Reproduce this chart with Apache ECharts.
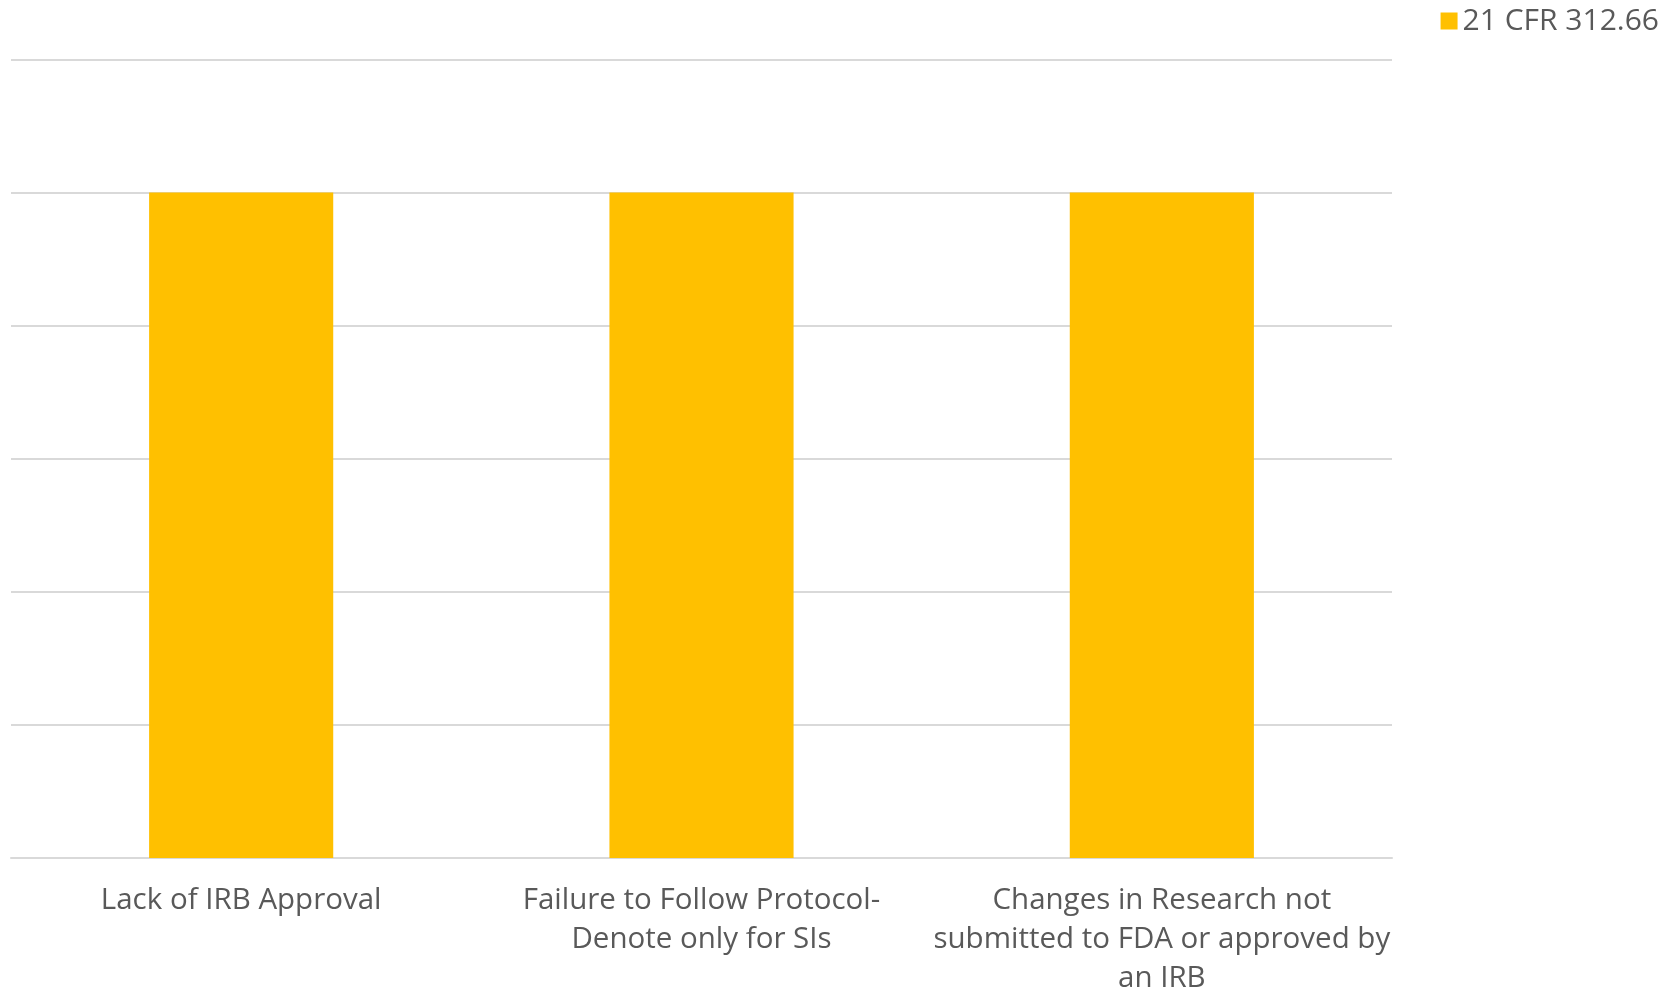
<!DOCTYPE html>
<html>
<head>
<meta charset="utf-8">
<script src="https://cdn.jsdelivr.net/npm/echarts@6/dist/echarts.min.js"></script>
<style>
  html, body { margin: 0; padding: 0; background: #ffffff; }
  #chart { width: 1672px; height: 993px; }
</style>
</head>
<body>
<div id="chart"></div>
<script>
// Violation categories (line breaks as they appear under each bar)
const categories = [
  'Lack of IRB Approval',
  'Failure to Follow Protocol-\nDenote only for SIs',
  'Changes in Research not\nsubmitted to FDA or approved by\nan IRB'
];
const seriesName = '21 CFR 312.66';
const counts = [5, 5, 5];
const yMax = 6;
const yStep = 1;

const textColor = '#595959';
const fontFamily = 'Open Sans, Lato, sans-serif';

const chart = echarts.init(document.getElementById('chart'));
chart.setOption({
  backgroundColor: '#ffffff',
  animation: false,
  legend: {
    data: [seriesName],
    right: 8,
    top: 1,
    itemWidth: 17,
    itemHeight: 17,
    itemGap: 10,
    icon: 'rect',
    textStyle: { color: textColor, fontSize: 30, fontFamily: fontFamily }
  },
  grid: {
    left: 11, right: 280, top: 59.5, bottom: 135,
    containLabel: false,
    outerBoundsMode: 'none'
  },
  xAxis: {
    type: 'category',
    data: categories,
    axisLine: { show: true, lineStyle: { color: '#d9d9d9', width: 2 } },
    axisTick: { show: false },
    axisLabel: {
      color: textColor,
      fontSize: 29.5,
      fontFamily: fontFamily,
      lineHeight: 39,
      margin: 23,
      interval: 0,
      align: 'center'
    }
  },
  yAxis: {
    type: 'value',
    min: 0,
    max: yMax,
    interval: yStep,
    axisLabel: { show: false },
    axisLine: { show: false },
    axisTick: { show: false },
    splitLine: { lineStyle: { color: '#d9d9d9', width: 2 } }
  },
  series: [{
    name: seriesName,
    type: 'bar',
    data: counts,
    barWidth: '40%',
    itemStyle: { color: '#FFC000' }
  }]
});
</script>
</body>
</html>
